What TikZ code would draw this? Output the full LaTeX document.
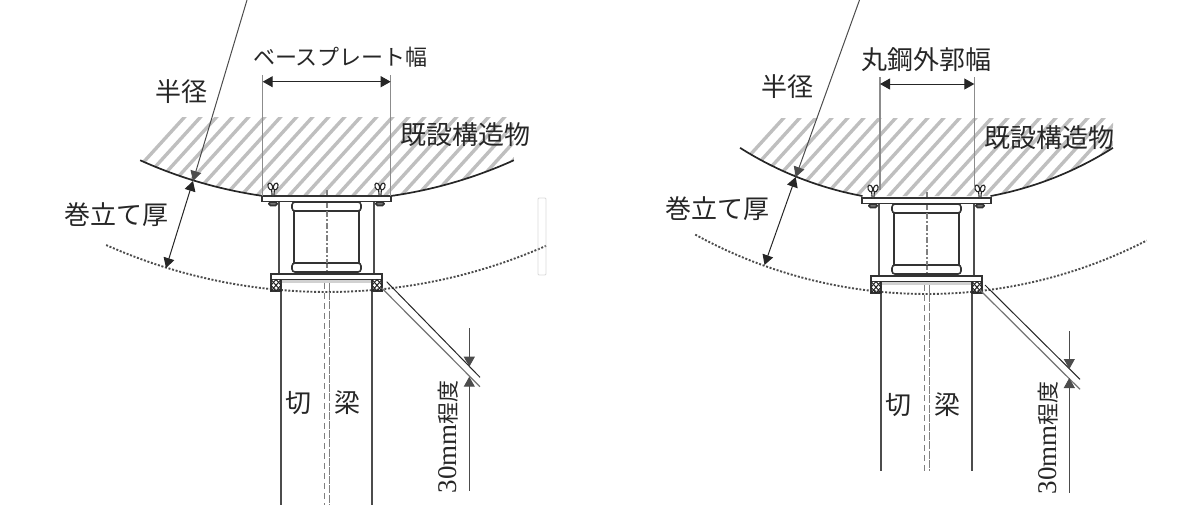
\documentclass[tikz,border=0pt]{standalone}
\usepackage{fontspec}
\setmainfont{Liberation Serif}
\newfontfamily\cjk{Noto Sans CJK JP}
\usetikzlibrary{arrows.meta}
\tikzset{
  heavy/.style={line width=0.8pt,draw=black!80},
  pipe/.style={line width=1.05pt,draw=black!70},
  thinline/.style={line width=0.5pt,draw=black!85},
  ext/.style={line width=0.55pt,draw=black!45},
  centerline/.style={line width=0.6pt,draw=black!50},
  dim/.style={line width=0.5pt,draw=black!85,{Triangle[length=5pt,width=5.5pt]}-{Triangle[length=5pt,width=5.5pt]}},
  dimend/.style={line width=0.5pt,draw=black!70,-{Triangle[length=5pt,width=5.5pt]}},
  earth/.style={line width=0.95pt,draw=black!70,dash pattern=on 1pt off 0.85pt},
  rock/.style={line width=0.85pt,draw=black!85},
  stripe/.style={line width=1.7pt,draw=black!25},
  label/.style={font=\cjk\fontsize{13}{15}\selectfont,text=black!85,inner sep=0pt},
  smalllabel/.style={font=\cjk\fontsize{11}{13}\selectfont,text=black!85,inner sep=0pt},
  wing/.style={line width=0.55pt,draw=black!85,fill=white}
}
% #1 dx, #2 dy, #3 bottom of pipe (in local px)
\newcommand{\assembly}[3]{%
\begin{scope}[shift={(#1,#2)}]
  % posts
  \draw[pipe] (279,202) -- (279,274);
  \draw[pipe] (374,202) -- (374,274);
  % pipes
  \draw[pipe] (281,291) -- (281,#3);
  \draw[pipe] (372,291) -- (372,#3);
  \draw[centerline,densely dashed] (324.5,283) -- (324.5,#3);
  \draw[centerline,dash pattern=on 4pt off 0.6pt] (329.5,283) -- (329.5,#3);
  \draw[centerline,dash pattern=on 3pt off 1pt on 1pt off 1pt] (327,190) -- (327,280);
  % jack
  \draw[heavy,rounded corners=1.5pt] (292,202) rectangle (361,211);
  \draw[heavy,rounded corners=1.5pt] (292,263) rectangle (361,272);
  \draw[heavy,fill=white] (294,211) rectangle (359,263);
  \draw[centerline,dash pattern=on 3pt off 1pt on 1pt off 1pt] (327,211) -- (327,263);
  % base plate
  \draw[heavy,fill=white] (262,196) rectangle (391,201.5);
  \foreach \b in {273,380}{
    \draw[heavy,fill=black!55,rounded corners=0.8pt] (\b-4,202) rectangle (\b+4,205.5);
    \draw[wing] (\b-1.5,189) -- (\b-0.8,196) -- (\b+0.8,196) -- (\b+1.5,189);
    \draw[wing,rotate around={20:(\b-2.7,186.5)}] (\b-2.7,186.5) ellipse (1.1pt and 1.8pt);
    \draw[wing,rotate around={-20:(\b+2.7,186.5)}] (\b+2.7,186.5) ellipse (1.1pt and 1.8pt);
  }
  % lower plate
  \fill[black!18] (281,280) rectangle (372,283);
  \draw[heavy,fill=white] (271,274) rectangle (382,279.5);
  \foreach \p in {271,372}{
    \draw[heavy] (\p,279.5) rectangle (\p+10,291);
    \draw[line width=0.5pt,black!85] (\p,279.5) -- (\p+10,291) (\p+10,279.5) -- (\p,291)
      (\p+5,279.5) -- (\p+10,285.2) -- (\p+5,291) -- (\p,285.2) -- cycle;
  }
\end{scope}}
\begin{document}
\begin{tikzpicture}[x=0.5pt,y=-0.5pt]
\useasboundingbox (0,0) rectangle (1200,511);
% ---------- left hatch
\begin{scope}
  \clip (140,117) -- (140,162) -- plot[domain=-24.3:-8.1,samples=30] ({327+454*sin(\x)},{-253.5+454*cos(\x)})
     -- plot[domain=8.1:24.3,samples=30] ({327+454*sin(\x)},{-253.5+454*cos(\x)}) -- (513,117) -- cycle;
  \foreach \s in {0,16,...,480}{\draw[stripe] (100+\s,210) -- (200+\s,100);}
\end{scope}
\draw[rock] plot[domain=-24.3:-8.1,samples=30] ({327+454*sin(\x)},{-253.5+454*cos(\x)});
\draw[rock] plot[domain=8.1:24.3,samples=30] ({327+454*sin(\x)},{-253.5+454*cos(\x)});
\draw[earth] plot[domain=-24:23.8,samples=60] ({327+543*sin(\x)},{-251+543*cos(\x)});
% ---------- right hatch
\begin{scope}
  \clip (740,118) -- (740,152.5) -- plot[domain=-32.4:-10.6,samples=30] ({926.5+348*sin(\x)},{-146+348*cos(\x)})
     -- plot[domain=10.6:32.4,samples=30] ({926.5+348*sin(\x)},{-146+348*cos(\x)}) -- (1113,118) -- cycle;
  \foreach \s in {0,16,...,480}{\draw[stripe] (700+\s,210) -- (800+\s,100);}
\end{scope}
\draw[rock] plot[domain=-32.4:-10.6,samples=30] ({926.5+348*sin(\x)},{-146+348*cos(\x)});
\draw[rock] plot[domain=10.6:32.4,samples=30] ({926.5+348*sin(\x)},{-146+348*cos(\x)});
\draw[earth] plot[domain=-28.8:27.3,samples=60] ({926.5+480*sin(\x)},{-186+480*cos(\x)});
% ---------- assemblies
\assembly{0}{0}{505}
\assembly{600}{2}{469}
% ---------- left dimensions
\coordinate (LRtop) at (247,0);
\coordinate (LRmid) at (193,181);
\coordinate (LRlow) at (166,268);
\draw[dimend] (LRtop) -- (LRmid);
\draw[dim] (LRmid) -- (LRlow);
\coordinate (LWa) at (262.7,75);
\coordinate (LWb) at (390.7,75);
\coordinate (LWc) at (262.7,196);
\coordinate (LWd) at (390.7,196);
\draw[ext] (LWa) -- (LWc);
\draw[ext] (LWb) -- (LWd);
\coordinate (LAa) at (262.7,81.7);
\coordinate (LAb) at (390.7,81.7);
\draw[dim] (LAa) -- (LAb);
\coordinate (LDa) at (386.7,281.7);
\coordinate (LDb) at (480,377.3);
\coordinate (LDc) at (381.7,288);
\coordinate (LDd) at (480,386.7);
\draw[thinline] (LDa) -- (LDb);
\draw[line width=0.6pt,black!55] (LDc) -- (LDd);
\coordinate (LTa) at (469.3,328);
\coordinate (LTb) at (469.3,366.7);
\coordinate (LTc) at (469.3,490.7);
\coordinate (LTd) at (469.3,376.7);
\draw[dimend] (LTa) -- (LTb);
\draw[dimend] (LTc) -- (LTd);
% sliver
\draw[line width=0.4pt,black!15,rounded corners=0.5pt] (538,198) rectangle (546,275);
% ---------- right dimensions
\coordinate (RRtop) at (859.5,0);
\coordinate (RRmid) at (795.7,177);
\coordinate (RRlow) at (764.5,265);
\draw[dimend] (RRtop) -- (RRmid);
\draw[dim] (RRmid) -- (RRlow);
\coordinate (RWa) at (880,77);
\coordinate (RWb) at (974.3,77);
\coordinate (RWc) at (880,190);
\coordinate (RWd) at (974.3,190);
\draw[ext] (RWa) -- (RWc);
\draw[ext] (RWb) -- (RWd);
\coordinate (RAa) at (880,84);
\coordinate (RAb) at (974.3,84);
\draw[dim] (RAa) -- (RAb);
\coordinate (RDa) at (985,285);
\coordinate (RDb) at (1080,379.3);
\coordinate (RDc) at (980,290);
\coordinate (RDd) at (1080,389.3);
\draw[thinline] (RDa) -- (RDb);
\draw[line width=0.6pt,black!55] (RDc) -- (RDd);
\coordinate (RTa) at (1069.3,331);
\coordinate (RTb) at (1069.3,369);
\coordinate (RTc) at (1069.3,492.7);
\coordinate (RTd) at (1069.3,378);
\draw[dimend] (RTa) -- (RTb);
\draw[dimend] (RTc) -- (RTd);
% ---------- labels
\node[smalllabel] (lw) at (340.5,57) {ベースプレート幅};
\node[label] (lr) at (181,92) {半径};
\node[label] (lk) at (400,135) [anchor=west] {既設構造物};
\node[label] (lt) at (116.5,215) {巻立て厚};
\node[label] (lc1) at (298,403) {切};
\node[label] (lc2) at (347.7,403) {梁};
\node[rotate=90,inner sep=0pt,text=black!85] (ls) at (448,436.5) {\fontsize{13.5}{15}\selectfont 30mm\cjk\fontsize{11}{13}\selectfont 程度};
\node[label] (rw) at (926,60) {丸鋼外郭幅};
\node[label] (rr) at (787.5,87) {半径};
\node[label] (rk) at (984,138) [anchor=west] {既設構造物};
\node[label] (rt) at (717,209) {巻立て厚};
\node[label] (rc1) at (898,405) {切};
\node[label] (rc2) at (947,405) {梁};
\node[rotate=90,inner sep=0pt,text=black!85] (rs) at (1048,437.5) {\fontsize{13.5}{15}\selectfont 30mm\cjk\fontsize{11}{13}\selectfont 程度};
\end{tikzpicture}
\end{document}
